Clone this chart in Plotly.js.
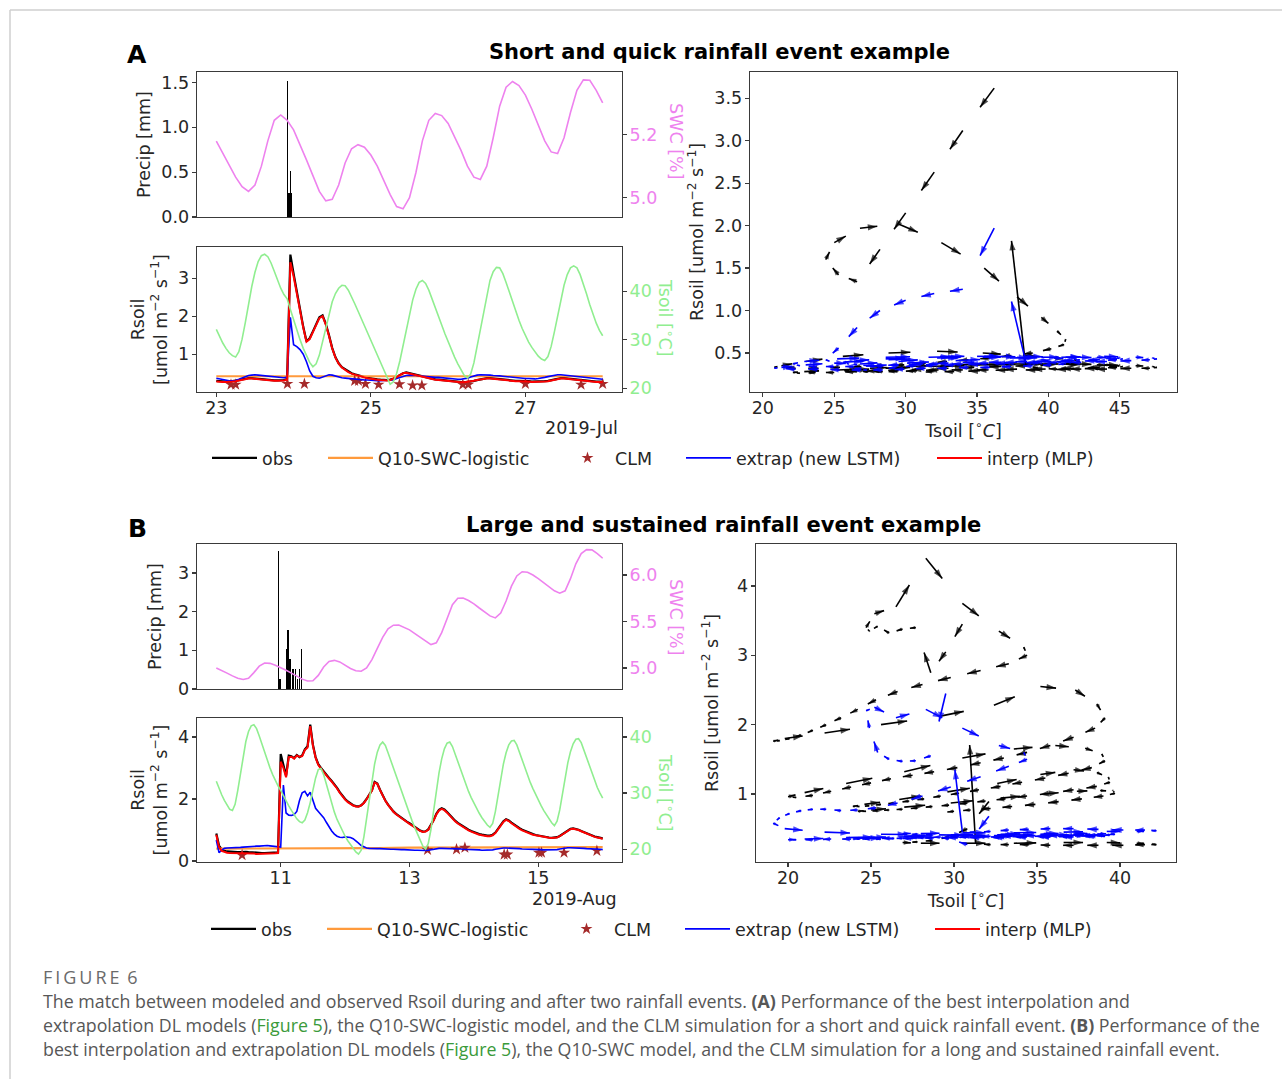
<!DOCTYPE html>
<html><head><meta charset="utf-8">
<script src="https://cdn.plot.ly/plotly-3.0.1.min.js"></script>
<style>html,body{margin:0;padding:0;background:#fff}#chart{width:1282px;height:1079px}</style>
</head><body><div id="chart"></div>
<script>
// ================= DATA =================
// Panel A : 2019-Jul-23 00:00 .. Jul-28 00:00, hourly series (day of month)
const A_startDay = 23;
const A_tsoil = [32.1,30.6,29.3,28.2,27.3,26.7,26.4,27.5,30.1,33.5,37.3,40.9,43.9,46.1,47.3,47.6,47.1,45.8,44.1,42.3,40.6,39.3,38.4,36.2,
34.0,32.0,30.0,28.2,26.6,25.3,24.4,25.0,26.8,29.5,32.5,35.5,37.8,39.5,40.6,41.2,41.1,40.2,38.9,37.4,35.9,34.4,32.9,31.4,
29.9,28.4,26.9,25.4,23.9,22.3,20.8,21.3,23.0,25.6,28.8,32.2,35.4,38.2,40.4,41.8,42.2,41.6,40.2,38.5,36.7,34.8,33.0,31.2,
29.5,27.9,26.4,25.0,23.7,22.6,22.1,22.9,25.2,28.6,32.4,36.2,39.5,42.2,44.0,44.9,44.8,43.6,41.8,39.8,37.8,35.8,34.0,32.3,
30.8,29.5,28.4,27.4,26.6,26.0,25.7,26.5,28.6,31.6,35.0,38.3,41.2,43.4,44.8,45.2,44.8,43.4,41.5,39.4,37.2,35.2,33.4,31.9,30.8];
const A_obs = [0.30,0.29,0.28,0.28,0.28,0.29,0.30,0.32,0.34,0.36,0.37,0.37,0.36,0.35,0.34,0.33,0.32,0.32,0.31,0.31,0.31,0.32,0.35,3.62,
3.12,2.63,2.15,1.72,1.34,1.42,1.60,1.80,1.97,2.02,1.80,1.50,1.16,0.92,0.76,0.66,0.60,0.55,0.50,0.47,0.44,0.42,0.40,0.38,
0.36,0.35,0.34,0.33,0.32,0.32,0.33,0.35,0.40,0.46,0.50,0.52,0.50,0.47,0.44,0.42,0.40,0.38,0.36,0.35,0.34,0.33,0.32,0.31,
0.30,0.29,0.28,0.27,0.27,0.26,0.27,0.28,0.30,0.32,0.34,0.36,0.37,0.37,0.36,0.35,0.34,0.33,0.32,0.31,0.31,0.30,0.30,0.30,
0.29,0.29,0.28,0.28,0.28,0.28,0.29,0.30,0.32,0.34,0.36,0.37,0.37,0.36,0.35,0.34,0.33,0.32,0.31,0.30,0.30,0.29,0.28,0.28,0.27];
const A_interp = [0.28,0.27,0.27,0.27,0.27,0.28,0.29,0.31,0.33,0.35,0.36,0.36,0.35,0.34,0.33,0.32,0.31,0.31,0.30,0.30,0.30,0.31,0.33,3.42,
3.05,2.60,2.12,1.70,1.33,1.40,1.58,1.78,1.95,2.00,1.78,1.48,1.15,0.91,0.75,0.65,0.58,0.53,0.49,0.46,0.43,0.41,0.39,0.37,
0.35,0.34,0.33,0.32,0.31,0.31,0.32,0.35,0.40,0.45,0.50,0.51,0.49,0.46,0.43,0.41,0.39,0.37,0.35,0.34,0.33,0.32,0.31,0.30,
0.29,0.28,0.27,0.27,0.26,0.26,0.27,0.28,0.30,0.32,0.34,0.35,0.36,0.36,0.35,0.34,0.33,0.32,0.31,0.30,0.30,0.29,0.29,0.29,
0.28,0.28,0.27,0.27,0.27,0.27,0.28,0.29,0.31,0.33,0.35,0.36,0.36,0.35,0.34,0.33,0.32,0.31,0.30,0.29,0.29,0.28,0.27,0.27,0.26];
const A_extrap = [0.37,0.35,0.33,0.31,0.30,0.30,0.31,0.34,0.38,0.41,0.44,0.45,0.46,0.45,0.44,0.43,0.42,0.41,0.40,0.39,0.39,0.38,0.40,1.97,
1.25,1.20,1.12,1.00,0.80,0.56,0.42,0.38,0.37,0.40,0.44,0.46,0.45,0.42,0.40,0.38,0.37,0.36,0.35,0.34,0.33,0.33,0.32,0.32,
0.31,0.30,0.30,0.30,0.31,0.31,0.32,0.33,0.36,0.39,0.42,0.44,0.45,0.45,0.44,0.43,0.42,0.41,0.40,0.40,0.39,0.39,0.38,0.37,
0.36,0.35,0.34,0.34,0.34,0.35,0.37,0.40,0.43,0.45,0.46,0.46,0.45,0.45,0.44,0.44,0.43,0.42,0.41,0.40,0.39,0.38,0.37,0.37,
0.36,0.36,0.35,0.35,0.36,0.37,0.39,0.41,0.43,0.45,0.46,0.46,0.45,0.45,0.44,0.43,0.42,0.41,0.40,0.39,0.38,0.37,0.36,0.35,0.34];
// SWC, every 2 hours
const A_swc = [5.179,5.14,5.10,5.065,5.035,5.02,5.04,5.10,5.18,5.245,5.262,5.245,5.215,5.17,5.12,5.07,5.02,4.99,4.995,5.04,5.11,5.155,5.168,5.16,
5.135,5.10,5.055,5.01,4.972,4.965,5.00,5.08,5.18,5.245,5.267,5.26,5.235,5.195,5.15,5.10,5.065,5.058,5.10,5.19,5.29,5.35,5.368,5.355,
5.325,5.28,5.23,5.18,5.145,5.14,5.19,5.27,5.34,5.373,5.372,5.34,5.30];
const A_precipDay = [23.92,23.94,23.955,23.97];
const A_precip = [1.52,0.27,0.51,0.27];
const A_q10Day = [23,23.5,24,24.5,25,25.5,26,26.5,27,27.5,28];
const A_q10 = [0.42,0.42,0.42,0.42,0.42,0.42,0.42,0.42,0.42,0.42,0.42];
const A_clmDay = [23.19,23.25,23.92,24.14,24.79,24.84,24.93,25.10,25.37,25.54,25.66,26.19,26.26,27.00,27.72,28.00];
const A_clm = [0.20,0.20,0.22,0.22,0.30,0.30,0.22,0.20,0.21,0.18,0.18,0.20,0.20,0.22,0.20,0.22];

// Panel B : 2019-Aug-10 00:00 .. Aug-16 00:00, hourly series
const B_startDay = 10;
const B_tsoil = [32.1,30.8,29.7,28.7,27.8,27.1,26.9,28.0,30.5,33.6,36.6,39.2,41.0,42.0,42.2,41.5,40.2,38.7,37.2,35.8,34.5,33.3,32.2,31.3,
30.5,29.5,28.6,27.7,26.9,26.1,25.4,24.9,24.7,25.2,26.5,28.3,30.5,32.7,34.2,34.4,33.3,31.6,29.8,28.1,26.6,25.3,24.2,23.2,
22.3,21.5,20.8,20.1,19.5,19.1,19.8,22.2,25.6,29.1,32.4,35.2,37.3,38.6,39.1,38.5,37.2,35.8,34.4,33.0,31.6,30.2,28.8,27.5,
26.2,25.0,23.8,22.6,21.5,20.5,20.0,21.0,23.5,27.0,30.5,33.6,36.1,37.9,38.9,39.1,38.3,36.9,35.5,34.1,32.8,31.5,30.3,29.2,
28.2,27.3,26.4,25.6,24.9,24.3,23.9,24.6,26.7,29.6,32.6,35.2,37.2,38.6,39.3,39.4,38.6,37.2,35.8,34.4,33.1,31.9,30.8,29.7,
28.7,27.8,26.9,26.1,25.4,24.7,24.2,25.0,27.0,29.8,32.8,35.4,37.4,38.8,39.6,39.7,39.0,37.7,36.3,34.9,33.5,32.2,31.0,30.0,29.1];
const B_obs = [0.89,0.50,0.38,0.33,0.31,0.30,0.30,0.29,0.29,0.29,0.30,0.30,0.29,0.28,0.27,0.27,0.26,0.26,0.26,0.26,0.27,0.27,0.27,0.28,
3.45,3.05,2.75,3.40,3.38,3.32,3.42,3.35,3.40,3.60,3.70,4.40,3.75,3.35,3.12,3.00,2.88,2.78,2.68,2.58,2.48,2.36,2.22,2.10,
2.00,1.92,1.85,1.80,1.77,1.76,1.80,1.88,2.00,2.12,2.28,2.55,2.50,2.30,2.10,1.95,1.82,1.70,1.60,1.52,1.45,1.38,1.32,1.27,
1.22,1.16,1.10,1.04,0.98,0.95,0.96,1.02,1.15,1.32,1.52,1.65,1.70,1.66,1.58,1.48,1.38,1.30,1.23,1.17,1.11,1.06,1.01,0.97,
0.93,0.90,0.87,0.85,0.83,0.82,0.82,0.85,0.92,1.03,1.15,1.28,1.35,1.31,1.24,1.17,1.11,1.06,1.01,0.97,0.93,0.90,0.87,0.84,
0.82,0.80,0.78,0.77,0.76,0.75,0.75,0.77,0.81,0.87,0.94,1.00,1.04,1.05,1.04,1.01,0.97,0.93,0.89,0.85,0.82,0.79,0.77,0.75,0.73];
const B_interp = [0.85,0.45,0.33,0.29,0.27,0.26,0.26,0.25,0.25,0.25,0.26,0.26,0.25,0.24,0.24,0.23,0.23,0.23,0.23,0.24,0.24,0.24,0.25,0.26,
3.20,3.00,2.70,3.35,3.36,3.30,3.40,3.36,3.38,3.58,3.66,4.35,3.72,3.33,3.10,2.98,2.86,2.76,2.66,2.56,2.46,2.34,2.20,2.08,
1.98,1.90,1.84,1.79,1.76,1.75,1.79,1.87,1.99,2.11,2.27,2.53,2.49,2.29,2.09,1.94,1.81,1.69,1.59,1.51,1.44,1.37,1.31,1.26,
1.20,1.14,1.08,1.02,0.97,0.94,0.95,1.01,1.14,1.31,1.50,1.63,1.68,1.64,1.56,1.46,1.36,1.28,1.21,1.15,1.09,1.04,0.99,0.95,
0.91,0.88,0.85,0.83,0.81,0.80,0.80,0.83,0.90,1.01,1.13,1.26,1.33,1.29,1.22,1.15,1.09,1.04,0.99,0.95,0.91,0.88,0.85,0.83,
0.81,0.79,0.77,0.76,0.75,0.74,0.74,0.76,0.80,0.86,0.93,0.99,1.03,1.04,1.03,1.00,0.96,0.92,0.88,0.84,0.81,0.78,0.76,0.74,0.72];
const B_extrap = [0.68,0.27,0.35,0.41,0.42,0.42,0.43,0.43,0.44,0.44,0.45,0.46,0.46,0.47,0.47,0.48,0.48,0.49,0.50,0.50,0.49,0.48,0.46,0.45,
0.45,2.45,1.55,1.48,1.47,1.50,1.60,1.95,2.20,2.25,2.10,2.22,1.95,1.70,1.60,1.50,1.40,1.25,1.10,0.97,0.87,0.80,0.77,0.76,
0.78,0.78,0.76,0.72,0.66,0.58,0.50,0.45,0.42,0.41,0.40,0.40,0.40,0.40,0.39,0.39,0.38,0.38,0.38,0.37,0.37,0.37,0.37,0.36,
0.36,0.36,0.35,0.35,0.34,0.34,0.34,0.35,0.37,0.39,0.40,0.41,0.41,0.41,0.40,0.40,0.40,0.39,0.39,0.39,0.38,0.38,0.38,0.38,
0.37,0.36,0.36,0.35,0.35,0.35,0.35,0.36,0.38,0.40,0.41,0.42,0.42,0.42,0.41,0.41,0.40,0.40,0.39,0.39,0.38,0.38,0.38,0.37,
0.37,0.37,0.36,0.36,0.36,0.36,0.36,0.37,0.39,0.41,0.42,0.43,0.43,0.43,0.42,0.42,0.41,0.41,0.40,0.40,0.39,0.39,0.38,0.38,0.37];
const B_swc = [5.0,4.975,4.945,4.915,4.89,4.876,4.89,4.95,5.02,5.054,5.05,5.03,5.005,4.975,4.945,4.91,4.88,4.86,4.862,4.92,5.01,5.07,5.082,5.065,
5.03,4.995,4.97,4.965,5.0,5.09,5.21,5.33,5.42,5.46,5.462,5.44,5.41,5.37,5.33,5.285,5.252,5.27,5.38,5.53,5.68,5.75,5.752,5.725,
5.69,5.645,5.6,5.56,5.538,5.59,5.72,5.88,5.99,6.035,6.03,6.0,5.96,5.915,5.87,5.83,5.805,5.83,5.96,6.12,6.23,6.272,6.27,6.23,6.18];
const B_precipDay = [10.97,10.99,11.09,11.11,11.13,11.15,11.18,11.20,11.23,11.26,11.29,11.32];
const B_precip = [3.56,0.26,1.03,1.53,0.77,0.77,0.52,0.52,0.52,0.26,0.52,1.03];
const B_q10Day = [10,10.5,11,11.5,12,12.5,13,13.5,14,14.5,15,15.5,16];
const B_q10 = [0.40,0.40,0.41,0.41,0.42,0.42,0.43,0.43,0.44,0.44,0.44,0.45,0.45];
const B_clmDay = [10.40,13.28,13.73,13.86,14.47,14.52,15.01,15.05,15.40,15.91];
const B_clm = [0.19,0.36,0.38,0.43,0.21,0.21,0.27,0.27,0.27,0.33];

const seriesNames = ['obs','Q10-SWC-logistic','CLM','extrap (new LSTM)','interp (MLP)'];

// ================= LAYOUT HELPERS =================
const W = 1282, H = 1079;
const fx = p => p / W;
const fy = p => 1 - p / H;
const dayGrid = (start, stepH, n) => Array.from({length: n}, (_, i) => start + i * stepH / 24);
const FONT = 'DejaVu Sans, sans-serif';
const FS = 17.5;
const C = {obs:'#000000', q10:'#ff9a3c', clm:'#a52a2a', ext:'#0000ff', int:'#ff0000', tsoil:'#90ee90', swc:'#ee82ee'};

const A_hours = dayGrid(A_startDay, 1, A_tsoil.length);
const A_swcDays = dayGrid(A_startDay, 2, A_swc.length);
const B_hours = dayGrid(B_startDay, 1, B_tsoil.length);
const B_swcDays = dayGrid(B_startDay, 2, B_swc.length);

// quiver (matplotlib-like): arrow from each point toward the next, scaled by s
function quiver(T, R, s, xa, ya, color, pxX, pxY) {
  const sx = [], sy = [], hx = [], hy = [], ang = [], sz = [];
  for (let i = 0; i < T.length - 1; i++) {
    const x0 = T[i], y0 = R[i];
    const x1 = x0 + s * (T[i + 1] - x0), y1 = y0 + s * (R[i + 1] - y0);
    sx.push(x0, x1, null); sy.push(y0, y1, null);
    const dx = (x1 - x0) * pxX, dy = (y1 - y0) * pxY;
    const L = Math.hypot(dx, dy);
    hx.push(x1); hy.push(y1);
    ang.push(Math.atan2(dx, dy) * 180 / Math.PI);
    sz.push(Math.max(3, Math.min(10, L * 0.9)));
  }
  return [
    {type:'scatter', mode:'lines', x:sx, y:sy, xaxis:xa, yaxis:ya, line:{color:color, width:1.6}, showlegend:false, hoverinfo:'skip'},
    {type:'scatter', mode:'markers', x:hx, y:hy, xaxis:xa, yaxis:ya, marker:{symbol:'arrow', size:sz, angle:ang, color:color, line:{width:0}}, showlegend:false, hoverinfo:'skip'}
  ];
}

// geometry (pixels)
const G = {
  left:[197,622],
  aTop:[72,217], aBot:[247,392], aRx:[750,1177], aRy:[72,392],
  bTop:[544,689], bBot:[718,862], bRx:[756,1176], bRy:[544,862]
};
const R = {
  aX:[22.75,28.25], aP:[0,1.616], aS:[4.939,5.398], aR:[0.006,3.82], aT:[19.2,49.1],
  aHx:[19.1,49.0], aHy:[0.04,3.81],
  bX:[9.7,16.3], bP:[0,3.75], bS:[4.774,6.333], bR:[-0.03,4.61], bT:[17.7,43.4],
  bHx:[18.07,43.37], bHy:[0.019,4.606]
};
const span = r => r[1] - r[0];

// ================= TRACES =================
const traces = [];
function timePanel(p, hours, swcDays, pDay, pVal, q10Day, q10, clmDay, clm, obs, ext, intp, tsoil, ax, legBase) {
  traces.push({type:'bar', x:pDay, y:pVal, xaxis:ax.xt, yaxis:ax.yp, width:p.barW, marker:{color:'#000', line:{width:0}}, showlegend:false, hoverinfo:'skip'});
  traces.push({type:'scatter', mode:'lines', x:swcDays, y:p.swc, xaxis:ax.xt, yaxis:ax.ys, line:{color:C.swc, width:1.6}, showlegend:false, hoverinfo:'skip'});
  traces.push({type:'scatter', mode:'lines', x:hours, y:tsoil, xaxis:ax.xb, yaxis:ax.yt, line:{color:C.tsoil, width:1.6}, showlegend:false, hoverinfo:'skip'});
  traces.push({type:'scatter', mode:'lines', name:seriesNames[0], x:hours, y:obs, xaxis:ax.xb, yaxis:ax.yr, line:{color:C.obs, width:2.2}, legend:legBase[0]});
  traces.push({type:'scatter', mode:'lines', name:seriesNames[1], x:q10Day, y:q10, xaxis:ax.xb, yaxis:ax.yr, line:{color:C.q10, width:2.2}, legend:legBase[1]});
  traces.push({type:'scatter', mode:'markers', name:seriesNames[2], x:clmDay, y:clm, xaxis:ax.xb, yaxis:ax.yr, marker:{symbol:'star', size:9, color:C.clm, line:{width:0}}, legend:legBase[2]});
  traces.push({type:'scatter', mode:'lines', name:seriesNames[3], x:hours, y:ext, xaxis:ax.xb, yaxis:ax.yr, line:{color:C.ext, width:1.6}, legend:legBase[3]});
  traces.push({type:'scatter', mode:'lines', name:seriesNames[4], x:hours, y:intp, xaxis:ax.xb, yaxis:ax.yr, line:{color:C.int, width:2.0}, legend:legBase[4]});
}
timePanel({barW:0.016, swc:A_swc}, A_hours, A_swcDays, A_precipDay, A_precip, A_q10Day, A_q10, A_clmDay, A_clm,
  A_obs, A_extrap, A_interp, A_tsoil, {xt:'x', yp:'y', ys:'y2', xb:'x2', yr:'y3', yt:'y4'},
  ['legend','legend2','legend3','legend4','legend5']);
timePanel({barW:0.022, swc:B_swc}, B_hours, B_swcDays, B_precipDay, B_precip, B_q10Day, B_q10, B_clmDay, B_clm,
  B_obs, B_extrap, B_interp, B_tsoil, {xt:'x4', yp:'y6', ys:'y7', xb:'x5', yr:'y8', yt:'y9'},
  ['legend6','legend7','legend8','legend9','legend10']);

const QS = 0.45;
const aPX = span(G.aRx) / span(R.aHx), aPY = span(G.aRy) / span(R.aHy);
const bPX = span(G.bRx) / span(R.bHx), bPY = span(G.bRy) / span(R.bHy);
traces.push(...quiver(A_tsoil, A_obs, QS, 'x3', 'y5', '#000', aPX, aPY));
traces.push(...quiver(A_tsoil, A_extrap, QS, 'x3', 'y5', '#0000ff', aPX, aPY));
traces.push(...quiver(B_tsoil, B_obs, QS, 'x6', 'y10', '#000', bPX, bPY));
traces.push(...quiver(B_tsoil, B_extrap, QS, 'x6', 'y10', '#0000ff', bPX, bPY));

// ================= AXES =================
const base = {showline:true, mirror:true, linecolor:'#3a3a3a', linewidth:1.3, ticks:'outside', ticklen:4, tickwidth:1.2,
  tickcolor:'#3a3a3a', showgrid:false, zeroline:false, tickfont:{family:FONT, size:FS, color:'#262626'}, fixedrange:true};
const bx = {...base, ticklabelstandoff:-4};
const by = {...base, ticklabelstandoff:-1};
const twin = (ov, anchor, range, dtick, fmt, color) => ({overlaying:ov, side:'right', anchor:anchor, range:range, dtick:dtick, tickformat:fmt,
  showline:false, ticks:'outside', ticklen:4, tickwidth:1.2, tickcolor:'#3a3a3a', showgrid:false, zeroline:false, ticklabelstandoff:-1,
  tickfont:{family:FONT, size:FS, color:color}, fixedrange:true});
const ttl = (t, st) => ({text:t, font:{family:FONT, size:FS, color:'#262626'}, standoff:st});
const dom = g => [fx(g[0]), fx(g[1])];
const domY = g => [fy(g[1]), fy(g[0])];

const layout = {
  width:W, height:H, margin:{l:0, r:0, t:0, b:0}, paper_bgcolor:'#fff', plot_bgcolor:'rgba(0,0,0,0)',
  font:{family:FONT, size:FS, color:'#262626'}, barmode:'overlay', bargap:0,
  xaxis:{...bx, domain:dom(G.left), anchor:'y', range:R.aX, showticklabels:false, ticks:''},
  yaxis:{...by, domain:domY(G.aTop), anchor:'x', range:R.aP, dtick:0.5, tickformat:'.1f', title:ttl('Precip [mm]', 6)},
  yaxis2:twin('y', 'x', R.aS, 0.2, '.1f', C.swc),
  xaxis2:{...bx, domain:dom(G.left), anchor:'y3', range:R.aX, tickvals:[23,25,27]},
  yaxis3:{...by, domain:domY(G.aBot), anchor:'x2', range:R.aR, dtick:1, title:ttl('Rsoil<br>[umol m<sup>−2</sup> s<sup>−1</sup>]', 6)},
  yaxis4:twin('y3', 'x2', R.aT, 10, '', C.tsoil),
  xaxis3:{...bx, domain:dom(G.aRx), anchor:'y5', range:R.aHx, dtick:5, title:ttl('Tsoil [<sup>∘</sup><i>C</i>]', 3)},
  yaxis5:{...by, domain:domY(G.aRy), anchor:'x3', range:R.aHy, dtick:0.5, tickformat:'.1f', title:ttl('Rsoil [umol m<sup>−2</sup> s<sup>−1</sup>]', 6)},
  xaxis4:{...bx, domain:dom(G.left), anchor:'y6', range:R.bX, showticklabels:false, ticks:''},
  yaxis6:{...by, domain:domY(G.bTop), anchor:'x4', range:R.bP, dtick:1, title:ttl('Precip [mm]', 12)},
  yaxis7:twin('y6', 'x4', R.bS, 0.5, '.1f', C.swc),
  xaxis5:{...bx, domain:dom(G.left), anchor:'y8', range:R.bX, tickvals:[11,13,15]},
  yaxis8:{...by, domain:domY(G.bBot), anchor:'x5', range:R.bR, dtick:2, title:ttl('Rsoil<br>[umol m<sup>−2</sup> s<sup>−1</sup>]', 6)},
  yaxis9:twin('y8', 'x5', R.bT, 10, '', C.tsoil),
  xaxis6:{...bx, domain:dom(G.bRx), anchor:'y10', range:R.bHx, dtick:5, title:ttl('Tsoil [<sup>∘</sup><i>C</i>]', 3)},
  yaxis10:{...by, domain:domY(G.bRy), anchor:'x6', range:R.bHy, dtick:1, title:ttl('Rsoil [umol m<sup>−2</sup> s<sup>−1</sup>]', 14)},
  showlegend:true,
  shapes:[
    {type:'line', xref:'paper', yref:'paper', x0:fx(10), x1:1, y0:fy(10), y1:fy(10), line:{color:'#cfcfcf', width:1.5}},
    {type:'line', xref:'paper', yref:'paper', x0:fx(10), x1:fx(10), y0:fy(10), y1:0, line:{color:'#cfcfcf', width:1.5}}
  ],
  annotations:[]
};

// legends: one per entry, placed along a row under each panel
const legXs = [[207, 323, 560, 681, 932], [206, 322, 559, 680, 930]];
const legRows = [458, 929];
for (let r = 0; r < 2; r++) {
  for (let k = 0; k < 5; k++) {
    const idx = r * 5 + k + 1;
    const key = idx === 1 ? 'legend' : 'legend' + idx;
    layout[key] = {x:fx(legXs[r][k]), y:fy(legRows[r]), xanchor:'left', yanchor:'middle', orientation:'h', itemwidth:45,
      bgcolor:'rgba(0,0,0,0)', borderwidth:0, font:{family:FONT, size:FS, color:'#262626'}};
  }
}

const ann = (text, px, py, opts) => Object.assign({text:text, xref:'paper', yref:'paper', x:fx(px), y:fy(py), showarrow:false,
  xanchor:'center', yanchor:'middle', font:{family:FONT, size:FS, color:'#262626'}}, opts || {});
layout.annotations.push(
  ann('<b>A</b>', 137, 55, {font:{family:FONT, size:25, color:'#000'}}),
  ann('<b>Short and quick rainfall event example</b>', 719, 52, {font:{family:FONT, size:21, color:'#000'}}),
  ann('<b>B</b>', 137, 528, {font:{family:FONT, size:25, color:'#000'}}),
  ann('<b>Large and sustained rainfall event example</b>', 723, 525, {font:{family:FONT, size:21, color:'#000'}}),
  ann('2019-Jul', 620, 428, {xanchor:'right'}),
  ann('2019-Aug', 619, 899, {xanchor:'right'}),
  ann('SWC [%]', 676, 141, {textangle:90, font:{family:FONT, size:FS, color:C.swc}}),
  ann('Tsoil [<sup>∘</sup>C]', 666, 317, {textangle:90, font:{family:FONT, size:FS, color:C.tsoil}}),
  ann('SWC [%]', 676, 617, {textangle:90, font:{family:FONT, size:FS, color:C.swc}}),
  ann('Tsoil [<sup>∘</sup>C]', 666, 792, {textangle:90, font:{family:FONT, size:FS, color:C.tsoil}})
);
const CAP = {family:'Open Sans, sans-serif', size:17.8, color:'#575757'};
const GREEN = '#3a9a3a';
layout.annotations.push(
  ann('F\u2009I\u2009G\u2009U\u2009R\u2009E\u2009 6', 41, 977, {xanchor:'left', font:{family:'Open Sans, sans-serif', size:18, color:'#6a6a6a'}}),
  ann('The match between modeled and observed Rsoil during and after two rainfall events. <b>(A)</b> Performance of the best interpolation and', 41, 1001, {xanchor:'left', font:CAP}),
  ann('extrapolation DL models (<span style="color:' + GREEN + '">Figure 5</span>), the Q10-SWC-logistic model, and the CLM simulation for a short and quick rainfall event. <b>(B)</b> Performance of the', 41, 1025, {xanchor:'left', font:CAP}),
  ann('best interpolation and extrapolation DL models (<span style="color:' + GREEN + '">Figure 5</span>), the Q10-SWC model, and the CLM simulation for a long and sustained rainfall event.', 41, 1049, {xanchor:'left', font:CAP})
);

Plotly.newPlot('chart', traces, layout, {displayModeBar:false, staticPlot:true});
</script></body></html>
